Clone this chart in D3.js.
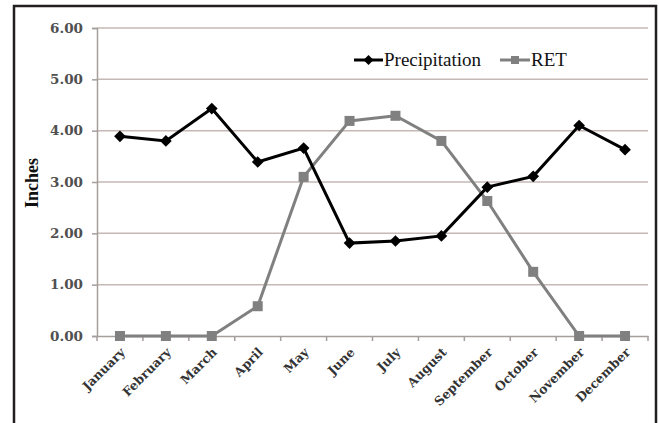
<!DOCTYPE html>
<html><head><meta charset="utf-8">
<script src="https://cdn.jsdelivr.net/npm/d3@7"></script>
<style>html,body{margin:0;padding:0;background:#fff;}svg{display:block;}</style>
</head><body>
<svg id="chart" width="659" height="423"></svg>
<script>
const months = ["January","February","March","April","May","June","July","August","September","October","November","December"];
const precipitation = [3.89,3.80,4.43,3.39,3.66,1.81,1.85,1.95,2.90,3.11,4.10,3.63];
const ret = [0,0,0,0.58,3.10,4.19,4.29,3.80,2.63,1.25,0,0];
const yTicks = [0,1,2,3,4,5,6];

(function(){
const svg = d3.select("#chart");
const pLeft = 97, pRight = 648, pTop = 28, pBottom = 336;

// frame
svg.append("path").attr("d","M14,430 L14,6 L656,6 L656,430")
  .attr("fill","none").attr("stroke","#231f20").attr("stroke-width",2.5);

const x = d3.scaleBand().domain(months).range([pLeft,pRight]).paddingInner(0).paddingOuter(0);
const y = d3.scaleLinear().domain([0,6]).range([pBottom,pTop]);

// grid
svg.append("g").selectAll("line").data(yTicks.filter(d=>d>0)).join("line")
  .attr("x1",pLeft).attr("x2",pRight).attr("y1",d=>y(d)).attr("y2",d=>y(d))
  .attr("stroke","#c4b9b5").attr("stroke-width",1.5);

// y axis
const yAxis = svg.append("g").attr("transform",`translate(${pLeft},0)`)
  .call(d3.axisLeft(y).tickValues(yTicks).tickFormat(d3.format(".2f")).tickSize(5).tickPadding(9));
yAxis.attr("font-family",null).attr("font-size",null);
yAxis.select(".domain").attr("stroke","#a59e9b").attr("stroke-width",1.5);
yAxis.selectAll(".tick line").attr("stroke","#a59e9b").attr("stroke-width",1.5);
yAxis.selectAll("text")
  .style("font-family","'DejaVu Serif', serif").style("font-weight","bold")
  .style("font-size","13.5px").attr("fill","#505050");

// x axis
const xAxis = svg.append("g").attr("transform",`translate(0,${pBottom})`)
  .call(d3.axisBottom(x).tickSize(0).tickPadding(0));
xAxis.attr("font-family",null).attr("font-size",null);
xAxis.select(".domain").attr("stroke","#a59e9b").attr("stroke-width",1.5);
// boundary ticks
svg.append("g").selectAll("line").data(d3.range(months.length+1)).join("line")
  .attr("x1",i=>pLeft + i*x.step()).attr("x2",i=>pLeft + i*x.step())
  .attr("y1",pBottom).attr("y2",pBottom+5).attr("stroke","#a59e9b").attr("stroke-width",1.5);
xAxis.selectAll(".tick text")
  .style("font-family","'DejaVu Serif', serif").style("font-weight","bold")
  .style("font-size","12.5px").attr("fill","#333")
  .attr("text-anchor","end").attr("dy",0)
  .attr("transform","translate(6,17) rotate(-45)");

// y title
svg.append("text").attr("transform","translate(38,183) rotate(-90)")
  .attr("text-anchor","middle")
  .style("font-family","'Liberation Serif', serif").style("font-weight","bold").style("font-size","18px")
  .attr("fill","#111").text("Inches");

const cx = d => x(d) + x.bandwidth()/2;
const line = (vals) => d3.line().x((d,i)=>cx(months[i])).y(d=>y(d))(vals);

// RET
svg.append("path").attr("d",line(ret)).attr("fill","none").attr("stroke","#808080").attr("stroke-width",3);
svg.append("g").selectAll("rect").data(ret).join("rect")
  .attr("x",(d,i)=>cx(months[i])-5).attr("y",d=>y(d)-5).attr("width",10).attr("height",10)
  .attr("fill","#808080");

// Precipitation
svg.append("path").attr("d",line(precipitation)).attr("fill","none").attr("stroke","#000").attr("stroke-width",3);
svg.append("g").selectAll("path").data(precipitation).join("path")
  .attr("d",d3.symbol().type(d3.symbolSquare).size(68))
  .attr("transform",(d,i)=>`translate(${cx(months[i])},${y(d)}) rotate(45)`)
  .attr("fill","#000");

// legend
const lg = svg.append("g");
lg.append("line").attr("x1",354).attr("x2",383).attr("y1",60).attr("y2",60).attr("stroke","#000").attr("stroke-width",3);
lg.append("path").attr("d",d3.symbol().type(d3.symbolSquare).size(50)).attr("transform","translate(368.5,60) rotate(45)").attr("fill","#000");
lg.append("text").attr("x",384).attr("y",66)
  .style("font-family","'Liberation Serif', serif").style("font-size","19px")
  .attr("fill","#111").text("Precipitation");
lg.append("line").attr("x1",500).attr("x2",530).attr("y1",60).attr("y2",60).attr("stroke","#808080").attr("stroke-width",3);
lg.append("rect").attr("x",511).attr("y",56).attr("width",8).attr("height",8).attr("fill","#808080");
lg.append("text").attr("x",531).attr("y",66)
  .style("font-family","'Liberation Serif', serif").style("font-size","19px")
  .attr("fill","#111").text("RET");
})();
</script>
</body></html>
